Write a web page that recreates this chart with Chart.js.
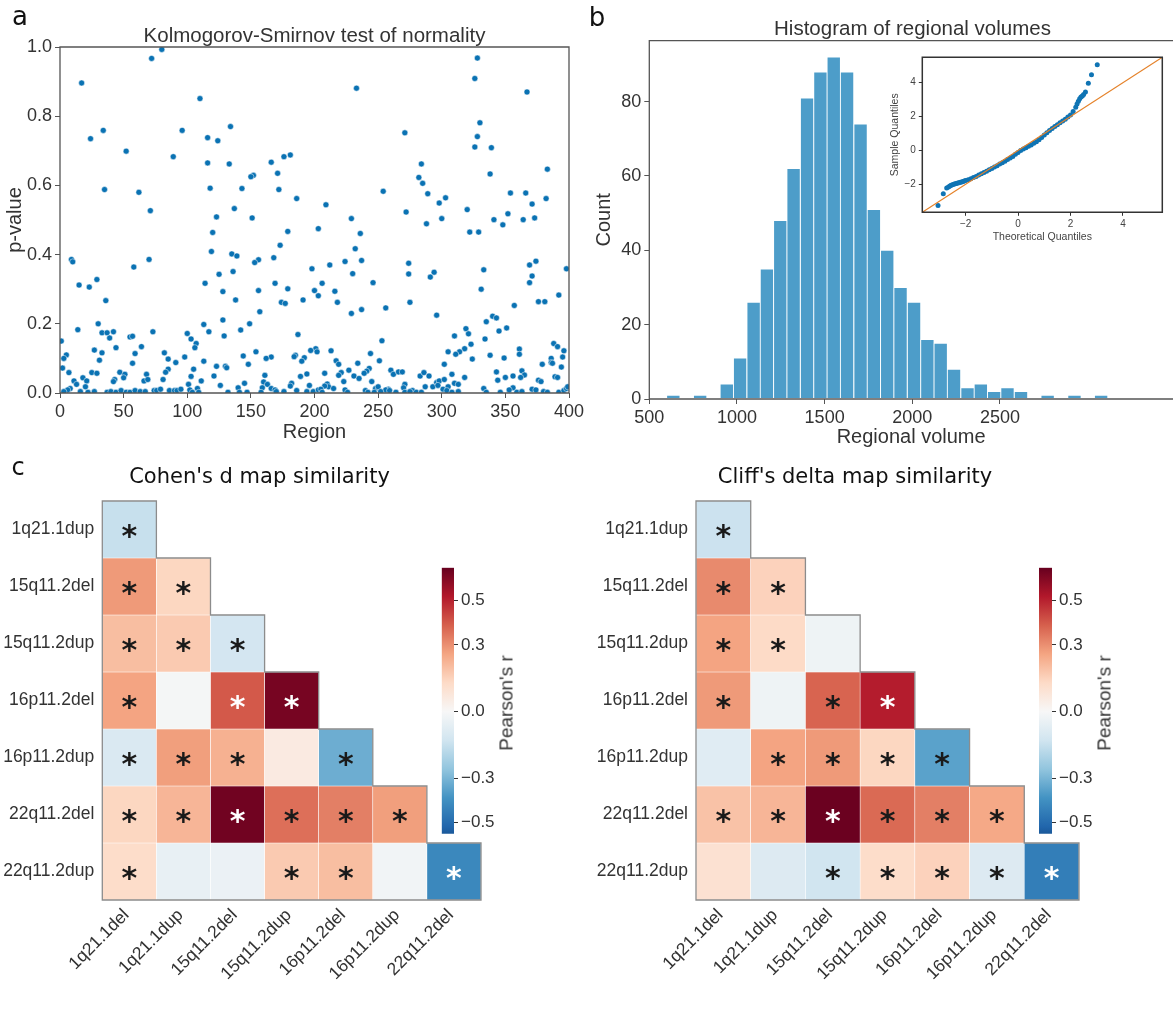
<!DOCTYPE html>
<html><head><meta charset="utf-8">
<script src="https://cdn.jsdelivr.net/npm/chart.js@4.4.1/dist/chart.umd.min.js"></script>
<style>
html,body{margin:0;padding:0;background:#fff;}
#wrap{position:relative;width:1173px;height:1022px;overflow:hidden;background:#fff;}
canvas{position:absolute;}
.t{position:absolute;white-space:nowrap;line-height:1;color:#333;font-family:"Liberation Sans",Arial,sans-serif;transform:translate(-50%,-50%);}
.r{transform:translate(-50%,-50%) rotate(-90deg);}
</style></head><body>
<div id="wrap">
<canvas id="cA" width="590" height="450" style="left:0;top:0"></canvas>
<canvas id="cB" width="583" height="450" style="left:590px;top:0"></canvas>
<canvas id="cQ" width="293" height="200" style="left:880px;top:45px"></canvas>
<canvas id="cH1" width="500" height="562" style="left:0;top:460px"></canvas>
<canvas id="cH2" width="500" height="562" style="left:590px;top:460px"></canvas>
<canvas id="cC1" width="89" height="300" style="left:430px;top:547px"></canvas>
<canvas id="cC2" width="89" height="300" style="left:1028px;top:547px"></canvas>

<div class="t" style="left:20px;top:16px;font-size:26px;font-family:'DejaVu Sans';color:#111">a</div>
<div class="t" style="left:597px;top:17px;font-size:26px;font-family:'DejaVu Sans';color:#111">b</div>
<div class="t" style="left:18px;top:467px;font-size:24px;font-family:'DejaVu Sans';color:#111">c</div>
<div class="t" style="left:314.5px;top:35px;font-size:20.5px">Kolmogorov-Smirnov test of normality</div>
<div class="t" style="left:912.5px;top:27.5px;font-size:20.5px">Histogram of regional volumes</div>
<div class="t" style="left:259.5px;top:476px;font-size:21px;font-family:'DejaVu Sans';color:#111">Cohen's d map similarity</div>
<div class="t" style="left:855px;top:476px;font-size:21px;font-family:'DejaVu Sans';color:#111">Cliff's delta map similarity</div>
<div class="t r" style="left:506px;top:703px;font-size:19px">Pearson's r</div>
<div class="t r" style="left:1104px;top:703px;font-size:19px">Pearson's r</div>
</div>
<script>
// ---------------- DATA ----------------
// Panel a: Kolmogorov-Smirnov p-values per region
const regions = [80,72,17,34,96,24,52,89,35,62,71,9,10,70,58,29,15,23,36,30,14,73,33,37,42,39,55,57,100,1,27,44,33,5,3,64,59,82,85,98,31,91,57,2,85,7,25,29,47,51,68,83,18,50,43,11,21,66,69,81,42,13,20,101,8,6,3,16,22,27,37,40,44,48,52,55,59,63,67,74,76,79,86,90,92,95,
110,134,116,124,116,133,181,176,166,171,152,150,118,143,172,186,137,123,151,120,179,203,173,119,135,139,168,156,153,198,136,125,114,169,156,179,128,200,203,138,191,174,177,157,113,128,149,117,142,187,129,103,107,106,201,202,197,154,144,166,162,185,184,192,190,113,148,123,130,131,105,103,121,161,189,194,111,126,145,160,163,182,181,196,108,140,159,166,169,102,104,109,132,141,147,158,170,176,186,194,199,203,
233,271,284,282,285,254,289,303,298,209,272,300,229,288,236,232,224,237,212,274,230,274,294,291,206,246,216,218,275,256,237,229,296,253,213,244,305,217,219,251,234,302,227,243,241,239,260,262,266,269,208,221,219,231,235,283,286,290,223,245,210,211,208,215,205,271,296,298,302,293,297,301,305,287,248,250,270,258,224,240,256,277,206,226,242,247,252,259,264,271,275,280,284,304,
328,326,367,330,328,326,339,383,338,354,366,382,371,320,352,373,341,364,348,322,329,374,369,398,333,371,369,331,392,376,381,357,340,343,335,351,345,319,321,310,334,323,388,391,361,396,318,314,311,361,338,324,349,386,395,386,387,379,394,363,343,308,365,362,350,356,318,389,391,344,376,378,310,313,356,353,371,374,333,335,313,308,346,359,363,380,383,392,396,398,399];
const pValues = [0.993,0.967,0.896,0.759,0.759,0.735,0.699,0.683,0.588,0.58,0.527,0.386,0.379,0.386,0.364,0.328,0.312,0.306,0.267,0.2,0.183,0.177,0.174,0.174,0.177,0.159,0.162,0.164,0.172,0.15,0.124,0.131,0.116,0.11,0.1,0.134,0.114,0.116,0.098,0.104,0.095,0.088,0.086,0.072,0.069,0.059,0.059,0.057,0.06,0.054,0.054,0.06,0.044,0.044,0.039,0.035,0.035,0.035,0.039,0.039,0.033,0.025,0.018,0.025,0.013,0.009,0.004,0.004,0.002,0.004,0.002,0.004,0.002,0.007,0.002,0.002,0.007,0.004,0.004,0.007,0.007,0.011,0.007,0.007,0.007,0.011,
0.851,0.77,0.738,0.729,0.665,0.662,0.688,0.683,0.667,0.635,0.629,0.625,0.592,0.591,0.588,0.562,0.533,0.509,0.506,0.464,0.467,0.475,0.427,0.409,0.402,0.396,0.391,0.385,0.377,0.359,0.351,0.343,0.317,0.317,0.296,0.301,0.293,0.296,0.281,0.269,0.269,0.262,0.259,0.235,0.198,0.211,0.2,0.177,0.182,0.169,0.165,0.156,0.143,0.131,0.128,0.119,0.123,0.119,0.107,0.104,0.1,0.109,0.105,0.102,0.092,0.092,0.083,0.077,0.077,0.073,0.069,0.048,0.049,0.051,0.048,0.055,0.035,0.022,0.028,0.032,0.025,0.028,0.02,0.022,0.013,0.015,0.015,0.013,0.009,0.009,0.002,0.002,0.002,0.002,0.002,0.002,0.004,0.004,0.007,0.004,0.004,0.009,
0.881,0.752,0.662,0.623,0.606,0.583,0.576,0.564,0.549,0.544,0.523,0.504,0.504,0.489,0.461,0.417,0.38,0.383,0.37,0.375,0.345,0.344,0.349,0.335,0.317,0.319,0.294,0.262,0.262,0.246,0.241,0.23,0.225,0.151,0.122,0.114,0.119,0.093,0.083,0.093,0.086,0.083,0.066,0.071,0.063,0.057,0.066,0.054,0.061,0.061,0.057,0.059,0.051,0.049,0.042,0.049,0.059,0.049,0.033,0.033,0.026,0.018,0.02,0.013,0.011,0.025,0.03,0.035,0.039,0.018,0.022,0.011,0.018,0.018,0.013,0.018,0.015,0.011,0.009,0.007,0.009,0.007,0.002,0.002,0.002,0.002,0.004,0.007,0.002,0.002,0.004,0.002,0.002,0.007,
0.968,0.909,0.87,0.781,0.741,0.711,0.709,0.647,0.633,0.578,0.578,0.562,0.546,0.53,0.518,0.506,0.501,0.501,0.486,0.465,0.465,0.381,0.37,0.359,0.356,0.338,0.319,0.3,0.283,0.264,0.264,0.253,0.222,0.217,0.206,0.188,0.179,0.186,0.171,0.165,0.156,0.141,0.143,0.134,0.127,0.122,0.128,0.119,0.112,0.112,0.109,0.098,0.101,0.1,0.104,0.088,0.086,0.083,0.075,0.064,0.061,0.054,0.052,0.045,0.045,0.049,0.045,0.047,0.045,0.037,0.037,0.033,0.028,0.025,0.015,0.009,0.011,0.009,0.013,0.002,0.004,0.002,0.002,0.002,0.004,0.004,0.002,0.002,0.007,0.013,0.018];
const regionTicks = [0,50,100,150,200,250,300,350,400];
const pTicks = [0,0.2,0.4,0.6,0.8,1.0];

// Panel b: histogram of regional volumes (bin centres and counts)
const binCenters = [637,713,790,866,942,1018,1095,1171,1247,1323,1400,1476,1552,1628,1705,1781,1857,1933,2010,2086,2162,2238,2315,2391,2467,2543,2620,2696,2772,2848,2925,3001,3077];
const binCounts  = [1,0,1,0,4,11,26,35,48,62,81,88,92,88,74,51,40,30,26,16,15,8,3,4,2,3,2,0,1,0,1,0,1];
const volumeTicks = [500,1000,1500,2000,2500];
const countTicks = [0,20,40,60,80];

// Inset: Q-Q plot
const qqTheoretical = [-3.05,-2.85,-2.72,-2.65,-2.6,-2.55,-2.5,-2.45,-2.4,-2.35,-2.3,-2.25,-2.2,-2.15,-2.1,-2.05,-2.0,-1.9,-1.8,-1.7,-1.6,-1.5,-1.4,-1.3,-1.2,-1.1,-1.0,-0.9,-0.8,-0.7,-0.6,-0.5,-0.4,-0.3,-0.2,-0.1,0.0,0.1,0.2,0.3,0.4,0.5,0.6,0.7,0.8,0.9,1.0,1.1,1.2,1.3,1.4,1.5,1.6,1.7,1.8,1.9,2.0,2.1,2.2,2.25,2.3,2.35,2.4,2.45,2.5,2.57,2.68,2.8,3.02];
const qqSample = [-3.25,-2.55,-2.22,-2.15,-2.1,-2.05,-2.02,-2.0,-1.97,-1.95,-1.92,-1.9,-1.88,-1.86,-1.83,-1.8,-1.77,-1.73,-1.67,-1.6,-1.53,-1.45,-1.37,-1.3,-1.22,-1.14,-1.06,-0.98,-0.9,-0.8,-0.72,-0.63,-0.54,-0.44,-0.35,-0.22,-0.12,0.0,0.08,0.16,0.25,0.33,0.42,0.52,0.63,0.77,0.92,1.05,1.18,1.3,1.42,1.52,1.63,1.74,1.85,1.97,2.1,2.3,2.55,2.75,2.9,3.05,3.15,3.22,3.3,3.45,3.97,4.47,5.06];
const qqLine = [-3.65, 5.5];
const qqTicks = [-2,0,2,4];

// Panel c: heatmaps (lower triangle, row r has r+1 values)
const rowNames = ['1q21.1dup','15q11.2del','15q11.2dup','16p11.2del','16p11.2dup','22q11.2del','22q11.2dup'];
const colNames = ['1q21.1del','1q21.1dup','15q11.2del','15q11.2dup','16p11.2del','16p11.2dup','22q11.2del'];
const cohenValues = [
  [-0.15],
  [0.28, 0.14],
  [0.20, 0.17, -0.12],
  [0.26, -0.01, 0.40, 0.62],
  [-0.10, 0.27, 0.23, 0.06, -0.32],
  [0.14, 0.22, 0.63, 0.36, 0.33, 0.27],
  [0.12, -0.05, -0.04, 0.17, 0.20, -0.02, -0.42]
];
// 0 = no star, 1 = dark star, 2 = white star
const cohenStars = [
  [1],
  [1,1],
  [1,1,1],
  [1,0,2,2],
  [1,1,1,0,1],
  [1,1,2,1,1,1],
  [1,0,0,1,1,0,2]
];
const cliffValues = [
  [-0.14],
  [0.31, 0.15],
  [0.26, 0.13, -0.03],
  [0.28, -0.03, 0.38, 0.51],
  [-0.08, 0.26, 0.28, 0.14, -0.35],
  [0.19, 0.22, 0.64, 0.37, 0.33, 0.25],
  [0.10, -0.09, -0.13, 0.12, 0.15, -0.09, -0.45]
];
const cliffStars = [
  [1],
  [1,1],
  [1,1,0],
  [1,0,1,2],
  [0,1,1,1,1],
  [1,1,2,1,1,1],
  [0,0,1,1,1,1,2]
];
const cbarMin = -0.55, cbarMax = 0.647;
const cbarTicks = [-0.5,-0.3,0.0,0.3,0.5];

// ---------------- HELPERS ----------------
Chart.defaults.font.family = '"Liberation Sans", Arial, sans-serif';
Chart.defaults.color = '#333';
const RDBU_R = [[5,48,97],[33,102,172],[67,147,195],[146,197,222],[209,229,240],[247,247,247],[253,219,199],[244,165,130],[214,96,77],[178,24,43],[103,0,31]];
const vRange = Math.max(cbarMax, -cbarMin);
function cmapT(t){
  t = Math.max(0, Math.min(1, t));
  const p = t * 10, i = Math.min(9, Math.floor(p)), f = p - i;
  const a = RDBU_R[i], b = RDBU_R[i+1];
  return 'rgb(' + [0,1,2].map(k => Math.round(a[k] + (b[k]-a[k])*f)).join(',') + ')';
}
function rdbu(v){ return cmapT((v + vRange) / (2 * vRange)); }
const minus = v => (v < 0 ? '\u2212' : '') + Math.abs(v);
const plain = v => String(v);
const setTicks = list => (s => { s.ticks = list.map(v => ({value: v})); });

function framePlugin(sides, color, width){
  return { id: 'frame', afterDraw(chart){
    const {ctx, chartArea: a} = chart;
    ctx.save(); ctx.strokeStyle = color; ctx.lineWidth = width; ctx.lineCap = 'square';
    ctx.beginPath();
    if (sides.includes('t')) { ctx.moveTo(a.left, a.top); ctx.lineTo(a.right, a.top); }
    if (sides.includes('b')) { ctx.moveTo(a.left, a.bottom); ctx.lineTo(a.right, a.bottom); }
    if (sides.includes('l')) { ctx.moveTo(a.left, a.top); ctx.lineTo(a.left, a.bottom); }
    if (sides.includes('r')) { ctx.moveTo(a.right, a.top); ctx.lineTo(a.right, a.bottom); }
    ctx.stroke(); ctx.restore();
  }};
}
const baseOpts = {responsive:false, animation:false, events:[], plugins:{legend:{display:false}, tooltip:{enabled:false}}};
const tickGrid = (len, color) => ({display:true, drawOnChartArea:false, drawTicks:true, tickLength:len, color:color, tickColor:color, tickWidth:1});

// ---------------- PANEL A ----------------
new Chart(document.getElementById('cA'), {
  type:'scatter',
  data:{datasets:[{data: regions.map((r,i) => ({x:r, y:pValues[i]})), backgroundColor:'#0a72b3', borderColor:'#ffffff', borderWidth:0.5, pointRadius:3, pointHoverRadius:3}]},
  options:{...baseOpts,
    layout:{padding:{top:47, right:21, left:0, bottom:0}},
    scales:{
      x:{type:'linear', min:0, max:400, afterBuildTicks:setTicks(regionTicks),
         ticks:{font:{size:18}, color:'#333', padding:3, maxRotation:0, autoSkip:false, callback:plain},
         grid:tickGrid(5,'#555'), border:{display:false},
         title:{display:true, text:'Region', font:{size:20}, color:'#333', padding:{top:0, bottom:6}},
         afterFit(s){ s.height = 57; }},
      y:{type:'linear', min:0, max:1, afterBuildTicks:setTicks(pTicks),
         ticks:{font:{size:18}, color:'#333', padding:3, callback:v => v.toFixed(1)},
         grid:tickGrid(5,'#555'), border:{display:false},
         title:{display:true, text:'p-value', font:{size:20}, color:'#333', padding:{top:3, bottom:0}},
         afterFit(s){ s.width = 60; }}
    }},
  plugins:[framePlugin('tblr','#555',1.3)]
});

// ---------------- PANEL B ----------------
new Chart(document.getElementById('cB'), {
  type:'bar',
  data:{datasets:[{data: binCenters.map((x,i) => ({x:x, y:binCounts[i]})), backgroundColor:'#4d9dc9', borderColor:'#ffffff', borderWidth:0.8, borderSkipped:false, barPercentage:1, categoryPercentage:1}]},
  options:{...baseOpts,
    layout:{padding:{top:40.7, right:0, left:0, bottom:0}},
    scales:{
      x:{type:'linear', min:500, max:3487, offset:false, afterBuildTicks:setTicks(volumeTicks),
         ticks:{font:{size:18}, color:'#333', padding:3, maxRotation:0, autoSkip:false, callback:plain},
         grid:{...tickGrid(5,'#555'), offset:false}, border:{display:false},
         title:{display:true, text:'Regional volume', font:{size:20}, color:'#333', padding:{top:0, bottom:0.5}},
         afterFit(s){ s.height = 51; }},
      y:{type:'linear', min:0, max:96.4, afterBuildTicks:setTicks(countTicks),
         ticks:{font:{size:18}, color:'#333', padding:3, callback:plain},
         grid:tickGrid(5,'#555'), border:{display:false},
         title:{display:true, text:'Count', font:{size:20}, color:'#333', padding:{top:2, bottom:0}},
         afterFit(s){ s.width = 59.3; }}
    }},
  plugins:[framePlugin('tbl','#555',1.3)]
});

// ---------------- INSET Q-Q ----------------
new Chart(document.getElementById('cQ'), {
  type:'scatter',
  data:{datasets:[
    {type:'line', data: qqLine.map(v => ({x:v, y:v})), borderColor:'#e5822a', borderWidth:1.2, pointRadius:0, fill:false},
    {data: qqTheoretical.map((t,i) => ({x:t, y:qqSample[i]})), backgroundColor:'#0f74b4', borderWidth:0, pointRadius:2.5, pointHoverRadius:2.5}
  ]},
  options:{...baseOpts,
    layout:{padding:{top:12.3, right:10.7, left:0, bottom:0}},
    scales:{
      x:{type:'linear', min:qqLine[0], max:qqLine[1], afterBuildTicks:setTicks(qqTicks),
         ticks:{font:{size:10}, color:'#444', padding:2, maxRotation:0, autoSkip:false, callback:minus},
         grid:tickGrid(3.5,'#333'), border:{display:false},
         title:{display:true, text:'Theoretical Quantiles', font:{size:10.5}, color:'#444', padding:{top:0, bottom:2}},
         afterFit(s){ s.height = 32.7; }},
      y:{type:'linear', min:qqLine[0], max:qqLine[1], afterBuildTicks:setTicks(qqTicks),
         ticks:{font:{size:10}, color:'#444', padding:3, callback:minus},
         grid:tickGrid(3.5,'#333'), border:{display:false},
         title:{display:true, text:'Sample Quantiles', font:{size:10.5}, color:'#444', padding:{top:8.7, bottom:0}},
         afterFit(s){ s.width = 42.3; }}
    }},
  plugins:[framePlugin('tblr','#333',1.5)]
});

// ---------------- HEATMAPS ----------------
function heatPlugins(stars){
  return [{
    id:'heatExtras',
    afterDatasetsDraw(chart){
      const {ctx, scales:{x, y}, chartArea:a} = chart;
      const half = (x.getPixelForValue(1) - x.getPixelForValue(0)) / 2;
      const rowTop = r => y.getPixelForValue(r - 0.5);
      const colRight = c => x.getPixelForValue(c) + half;
      // stars
      ctx.save();
      ctx.font = 'bold 30px "DejaVu Sans"';
      ctx.textAlign = 'center'; ctx.textBaseline = 'alphabetic';
      const m = ctx.measureText('*');
      const dy = (m.actualBoundingBoxAscent - m.actualBoundingBoxDescent) / 2;
      stars.forEach((row, r) => row.forEach((s, c) => {
        if (!s) return;
        ctx.fillStyle = s === 2 ? '#ffffff' : '#1a1a1a';
        ctx.fillText('*', x.getPixelForValue(c), y.getPixelForValue(r) + dy + 1.5);
      }));
      // staircase outline
      ctx.strokeStyle = '#8c8c8c'; ctx.lineWidth = 1.3; ctx.lineJoin = 'miter';
      ctx.beginPath();
      ctx.moveTo(a.left, a.bottom);
      ctx.lineTo(a.left, rowTop(0));
      for (let i = 0; i < rowNames.length; i++) {
        ctx.lineTo(colRight(i), rowTop(i));
        ctx.lineTo(colRight(i), i + 1 < rowNames.length ? rowTop(i + 1) : a.bottom);
      }
      ctx.closePath();
      ctx.stroke();
      ctx.restore();
    }
  }];
}
function makeHeat(id, values, stars, yWidth, padRight){
  const datasets = rowNames.map((rowName, r) => ({
    label: rowName,
    data: colNames.map((colName, c) => (c <= r ? [r - 0.5, r + 0.5] : null)),
    backgroundColor: colNames.map((colName, c) => (c <= r ? rdbu(values[r][c]) : 'rgba(0,0,0,0)')),
    borderColor:'#ffffff', borderWidth:0.6, borderSkipped:false,
    grouped:false, barPercentage:1, categoryPercentage:1
  }));
  new Chart(document.getElementById(id), {
    type:'bar',
    data:{labels: colNames, datasets},
    options:{...baseOpts,
      layout:{padding:{top:41, right:padRight, left:0, bottom:0}},
      scales:{
        x:{type:'category', offset:true,
           ticks:{font:{size:17.5}, color:'#333', padding:-3, labelOffset:-3, minRotation:45, maxRotation:45, autoSkip:false},
           grid:{display:false}, border:{display:false},
           afterFit(s){ s.height = 122; }},
        y:{type:'linear', min:-0.5, max:6.5, reverse:true, afterBuildTicks:setTicks(rowNames.map((n,i) => i)),
           ticks:{font:{size:17.5}, color:'#333', padding:0, autoSkip:false, callback:v => rowNames[Math.round(v)]},
           grid:{display:false}, border:{display:false},
           afterFit(s){ s.width = yWidth; }}
      }},
    plugins: heatPlugins(stars)
  });
}
makeHeat('cH1', cohenValues, cohenStars, 102.3, 19);
makeHeat('cH2', cliffValues, cliffStars, 106, 11);

// ---------------- COLORBARS ----------------
function makeColorbar(id, padLeft){
  new Chart(document.getElementById(id), {
    type:'bar',
    data:{labels:[''], datasets:[{
      data:[[cbarMin, cbarMax]], borderWidth:0, barPercentage:1, categoryPercentage:1,
      backgroundColor(ctx){
        const ch = ctx.chart, ys = ch.scales.y;
        if (!ch.chartArea || !ys) return '#ccc';
        const y0 = ys.getPixelForValue(cbarMin), y1 = ys.getPixelForValue(cbarMax);
        const g = ch.ctx.createLinearGradient(0, y0, 0, y1);
        const span = cbarMax - cbarMin;
        g.addColorStop(0, rdbu(cbarMin));
        for (let i = 0; i <= 10; i++) {
          const v = (i / 10) * 2 * vRange - vRange;
          if (v > cbarMin && v < cbarMax) g.addColorStop((v - cbarMin) / span, cmapT(i / 10));
        }
        g.addColorStop(1, rdbu(cbarMax));
        return g;
      }
    }]},
    options:{...baseOpts,
      layout:{padding:{top:20.7, right:0, left:padLeft, bottom:12.7}},
      scales:{
        x:{display:false},
        y:{type:'linear', position:'right', min:cbarMin, max:cbarMax, afterBuildTicks:setTicks(cbarTicks),
           ticks:{font:{size:17}, color:'#333', padding:3, autoSkip:false, callback:v => (v < 0 ? '\u2212' : '') + Math.abs(v).toFixed(1)},
           grid:tickGrid(4,'#333'), border:{display:false},
           afterFit(s){ s.width = 65; }}
      }}
  });
}
makeColorbar('cC1', 11.7);
makeColorbar('cC2', 11);
</script>
</body></html>
